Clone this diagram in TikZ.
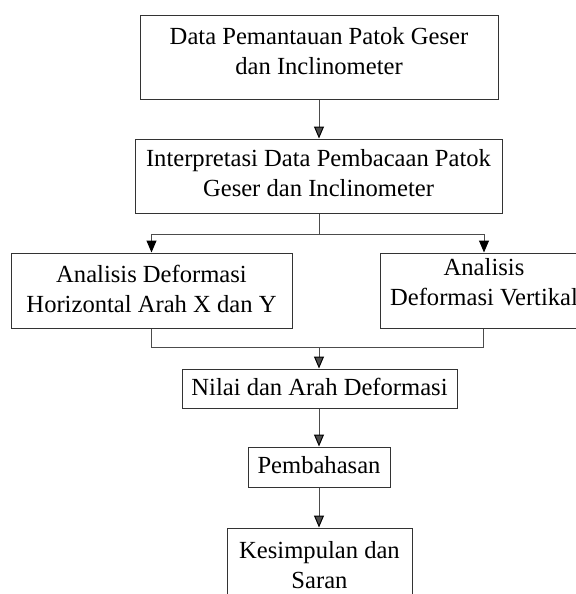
\documentclass[tikz,border=0pt]{standalone}
\usepackage{fontspec}
\setmainfont{Liberation Serif}
\usetikzlibrary{arrows.meta}

\begin{document}
\begin{tikzpicture}[x=0.5pt, y=-0.5pt,
  box/.style={draw=black!80, line width=0.5pt, inner sep=0pt, align=center,
    font=\fontsize{12.3}{15}\selectfont, text height=8.1pt, text depth=1.5pt},
  twoline/.style={text height=23.1pt},
  line/.style={black!70, line width=0.5pt},
  arr/.style={line, -{Triangle[width=5pt,length=6pt,color=black]}}]
  \useasboundingbox (0,0) rectangle (576,594);
  \clip (0,0) rectangle (576,594);
  \node[box, twoline, text depth=6pt, minimum width=179pt, minimum height=42pt] (data) at (319,57)
    {Data Pemantauan Patok Geser\\dan Inclinometer};
  \node[box, twoline, text depth=2.5pt, minimum width=183.5pt, minimum height=37pt] (interp) at (318.5,176)
    {Interpretasi Data Pembacaan Patok\\Geser dan Inclinometer};
  \node[box, twoline, text depth=1pt, minimum width=140.5pt, minimum height=37.5pt] (horiz) at (151.5,290.5)
    {Analisis Deformasi\\Horizontal Arah X dan Y};
  \node[box, twoline, text depth=8.5pt, minimum width=104pt, minimum height=37.5pt] (vert) at (484,290.5)
    {Analisis\\Deformasi Vertikal};
  \node[box, minimum width=137.5pt, minimum height=19.5pt] (nilai) at (319.5,388.5)
    {Nilai dan Arah Deformasi};
  \node[box, text depth=2pt, minimum width=71pt, minimum height=20pt] (bahas) at (319,467)
    {Pembahasan};
  \node[box, twoline, text depth=2.5pt, minimum width=92.5pt, minimum height=40pt] (simpul) at (319.5,568)
    {Kesimpulan dan\\Saran};
  \coordinate (split) at (319,234);
  \coordinate (merge) at (319,347);
  \path[arr]
  (data.south) edge (data.south |- interp.north)
  (merge) edge (merge |- nilai.north)
  (nilai.south -| merge) edge (merge |- bahas.north)
  (bahas.south) edge (bahas.south |- simpul.north);
  \draw[line] (interp.south -| split) -- (split);
  \draw[arr] (split) -| (horiz.north);
  \draw[arr] (split) -| (vert.north);
  \draw[line] (horiz.south) |- (merge);
  \draw[line] (vert.south) ++(-1,0) |- (merge);
\end{tikzpicture}
\end{document}
